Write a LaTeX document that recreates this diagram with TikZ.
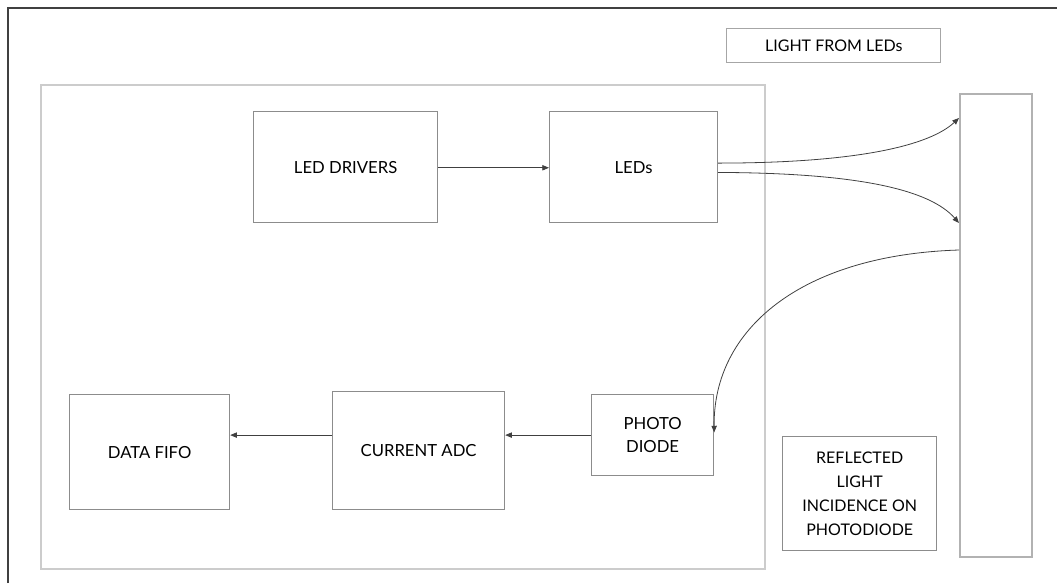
\documentclass[tikz,border=0pt]{standalone}
\usepackage{fontspec}
\setmainfont{Lato}
\usepackage{tikz}
\usetikzlibrary{arrows.meta,positioning,calc}

\begin{document}
\begin{tikzpicture}[
  x=0.75pt, y=-0.75pt,
  arr/.style = {-{Triangle[length=5pt,width=4pt]}, draw=black!75, line width=0.6pt},
  blockbox/.style = {draw=black!45, line width=0.9pt, anchor=north west,
                     align=center, font=\fontsize{12.5}{17.8}\selectfont},
  labelbox/.style = {draw=black!45, line width=1.1pt, anchor=north west,
                     align=center, font=\fontsize{12}{17.8}\selectfont},
]
\useasboundingbox (0,0) rectangle (1057,583);

% Frame
\draw[black!75, line width=1.5pt] (8,583) -- (8,8) -- (1057,8);
\node[draw=black!20, line width=1.2pt, anchor=north west, minimum width=724*0.75pt,
  minimum height=484*0.75pt] (chip) at (40,84) {};

% Transmit path
\node[blockbox, minimum width=184*0.75pt, minimum height=111*0.75pt] (drv) at (253,111) {LED DRIVERS};
\node[blockbox, minimum width=168*0.75pt, minimum height=111*0.75pt] (leds) at (549,111) {LEDs};

% Receive path
\node[blockbox, minimum width=122*0.75pt, minimum height=81*0.75pt] (pd) at (591,394) {PHOTO\\DIODE};
\node[blockbox, minimum width=172*0.75pt, minimum height=118*0.75pt] (adc) at (332,391) {CURRENT ADC};
\node[blockbox, minimum width=160*0.75pt, minimum height=115*0.75pt] (fifo) at (69,394) {DATA FIFO};

% Reflecting surface
\node[draw=black!30, line width=1.2pt, anchor=north west, minimum width=72*0.75pt,
  minimum height=463*0.75pt] (surf) at (959,93) {};

% Labels
\node[labelbox, draw=black!35, minimum width=214*0.75pt, minimum height=34*0.75pt] (lightlbl) at (726,28) {LIGHT FROM LEDs};
\node[labelbox, minimum width=154*0.75pt, minimum height=114*0.75pt] (refllbl) at (782,436) {REFLECTED\\LIGHT\\INCIDENCE ON\\PHOTODIODE};

% Arrows
\draw[arr] ([yshift=-0.5pt]drv.east) -- ([yshift=-0.5pt]leds.west);
\draw[arr] ([yshift=3pt]leds.east) .. controls (860,163) and (930,145) .. ($(surf.north west)+(0,25)$);
\draw[arr] ([yshift=-4pt]leds.east) .. controls (860,173) and (930,190) .. ($(surf.north west)+(0,130)$);
\draw[arr] ($(surf.north west)+(0,157)$) .. controls (800,255) and (713,330) .. ([yshift=2pt]pd.east);
\draw[arr] (pd.west) -- (pd.west -| adc.east);
\draw[arr] (pd.west -| adc.west) -- (pd.west -| fifo.east);
\end{tikzpicture}
\end{document}
